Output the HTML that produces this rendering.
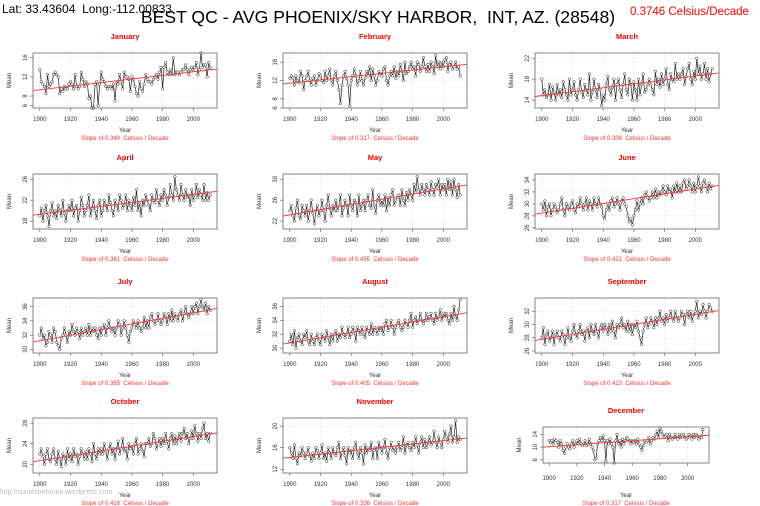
<!DOCTYPE html>
<html><head><meta charset="utf-8"><style>
body{margin:0;background:#fff;width:760px;height:506px;overflow:hidden;font-family:"Liberation Sans",sans-serif}
svg{display:block}
text{white-space:pre}
</style></head><body>
<svg id="c" width="760" height="506">
<text x="2" y="13" font-size="12" fill="#000">Lat: 33.43604  Long:-112.00833</text>
<text x="378" y="23" font-size="17.6" text-anchor="middle" fill="#000">BEST QC - AVG PHOENIX/SKY HARBOR,  INT, AZ. (28548)</text>
<text x="630" y="15" font-size="11.5" fill="#f00">0.3746 Celsius/Decade</text>
<text x="0" y="494" font-size="7" fill="#bbb">http://sunshinehours.wordpress.com</text>
</svg>
<script>
const years=[];for(let y=1900;y<=2011;y++)years.push(y);
const xTicks=[1900,1920,1940,1960,1980,2000];
const monthNames=["January","February","March","April","May","June","July","August","September","October","November","December"];
const slopes=["0.349","0.317","0.308","0.361","0.455","0.421","0.385","0.405","0.423","0.418","0.336","0.317"];
const jan=[13.5,11,10.5,10,8.5,12.5,10,10.5,11,12.5,13,12.5,12,8.5,9.5,9,10,9.5,9.5,10.5,11,10.5,9.5,12.5,10,9.5,10,13,11.5,10,11,10.5,7.5,8,5.5,5.5,10.5,11,6,10.5,13,11.5,11,10,9.5,10,10,9.5,10.5,7,11,10.5,12.5,11,9.5,13,12,12,11.5,9,12,11.5,10,8.5,8,11,9.5,9,10.5,12.5,11.5,11,11,10.5,11.5,12,12.5,11.5,13,14,9.5,14,15,13,12.5,13.5,12.5,16,12.5,13,13,12.5,13,13.5,13.5,14.5,13.5,12.5,13.5,14,13.5,14,15,12.5,13.5,17,14,14.5,14.5,12,15,14];
const feb=[12.5,13,12.5,11,13,12,11.5,14,13,10,12,13,14,12,11,12.5,13,11,12,13.5,13,12,11.5,14,12,13,14.5,12,11,13,14,12,10,7,11,13,14,12.5,11,6.5,12,13,14.5,13,11,12,14,12,11,12.5,14,13,15,12,14.5,13,11,12,14,13.5,13,14.5,15,12,11,13,14,13,15,12.5,14,13,15.5,14,12,16,13.5,14,15,16,14.5,15,13,16,15.5,14,15,17,15,14,15.5,14,16,15,13.5,17.5,15,16,14.5,16,15,16.5,17,14,15.5,16,14.5,15,16,14.5,15,13];
const mar=[18,15,16,14.5,15,17,14,16.5,15.5,14,17,15,16,14.5,17.5,16,15,14,18,15,16,17.5,15,14,16,18,15.5,14.5,17,16,15,19,14,15.5,18,16,14.5,17,16,13,15,14,17,18.5,16,15,16.5,18,14,17,18,16,14.5,17,19,16,15,18,17,14,17.5,16,14,18,15,17,19,15.5,16,17,18,17,16,15,19.5,17,18,16.5,19,17,18,20,17,16,19,18,17.5,21,18,19,18,19,20,17,18.5,20,21,18,17,19.5,18,22,19,20.5,18,19,21,18,20,17.5,19,20];
const apr=[19,20.5,18,20,21,19,17,20,21.5,19,20,18.5,21,20,19,22,19.5,18,20,21,20,22,19,20.5,21,18,20,22.5,21,19,20,21,23,19,20.5,22,20,18.5,21,22,19,20,22,21,20,23,21.5,20,19,22,21,20,23,22,20.5,21,23,20,22,21,20,22.5,21,24,20,21.5,19,22,21,23,22,21,20,23,22,21.5,24,22,21,23,22,24,23,21,22.5,25,23,22,26.5,24,23,22,25,23,22,24,22.5,23,21,24,22,23,25,22.5,24,23,22,25,22,23.5,22,23];
const may=[24,25,23,22,24.5,26,23,22.5,25,24,23,25,22,24,26,23.5,21.5,24,25,23,24,26,24,22,25,27,24.5,23,25,24,26,24,25,27,23,24.5,26,25,23,27,25,24,26,25.5,23,27,24,25,26,24,26,27,25,24.5,28,25,23.5,26,27,25,26,25,27,24,26.5,25,27,28,25,26,26.5,27,25,28,26,25,27.5,26,28,27,26,29,27.5,30.5,28,27,29,28,27,29,28,27,29.5,28,27,29,28.5,30,27,29,28,29,27,30,28,29.5,27,30,28,26.5,29,27];
const jun=[30,29,30.5,28,29.5,30,28,29,30,29.5,28.5,29,30,31,29,28,30,29.5,29,30,30.5,29,28.5,30,29.5,31,30,29,30,31,29,30.5,30,29,31,30,29.5,31,30,29.5,28,27.5,29,30,29,30.5,31,29.5,30,31,30,29,30.5,31,30,29.5,28,27,27.5,26.5,28,29,30.5,29,30,31,30,31.5,32,31,30.5,31,32,31,32.5,31,32,31.5,32,33,32,31.5,33,32,32.5,31,33,32,33.5,32,33,32,33.5,34,32.5,33,34,33,32,33.5,32,33,34.5,33,32,33.5,34,33,32,33.5,32.5,33];
const jul=[32,33,31.5,32,30.5,31,32.5,32,31,33,32.5,31,30.5,30,31.5,32,33,32,31,32.5,32,33.5,32.5,32,33,32.5,31.5,33,32,32.5,33,32,33.5,32,33,32.5,33,32,31.5,33,32,33,33.5,32,33,34,33,32.5,33,32,33,34,33.5,32,33,34,33,32,31,32.5,33,34,33.5,33,34,33,32.5,33,34.5,33,34,33,34.5,35,34,33.5,34,35,34,33.5,34,35,34.5,33.5,35,34,35.5,34,35,34.5,34,35,35.5,34,35,36,35,34.5,35,36,35,36,36.5,35,36,37,36,35.5,36.5,35,36,35.5];
const aug=[31,32,30.5,32.5,30,31.5,32,31,30.5,32,31.5,32.5,31,30.5,32,31,30.5,31.5,32,31,30.5,32,31.5,31,32.5,31.5,30.5,32,31,32,32.5,31,32,31.5,33,32,31.5,32,33,31.5,32,33,32.5,31,33,32.5,32,33,32,31.5,33,32.5,32,33.5,32,33,32.5,32,33,32.5,33,32,33.5,34,32.5,33,34,33,32,33,33.5,34,33,32.5,33,34,33.5,33,34,35,33,34,34.5,33.5,34,35,34,33.5,34,35,34,34.5,35,34,33.5,35,34,34.5,35.5,34,35,34.5,35,34,33.5,35,34,36,34.5,34,35.5,37];
const sep=[28,29.5,27,28.5,29,27.5,28,29,27,28.5,29,28,27.5,29,28.5,27,28,29.5,28,27.5,29,30,28.5,28,29,30,28.5,29,27.5,29,29.5,28,30,29,28.5,30,29,28,29.5,30,29,30,29.5,28.5,30,29,30.5,29,28,30,29.5,30,31,29.5,30,29,30.5,29,30,28.5,30,29.5,30.5,29,28,27,29,30,31,29.5,30,31,30.5,29.5,31,30,31,32,30.5,31,30,31.5,30.5,31,32,31,30.5,32,31,30.5,31,32,31.5,30,31.5,32,31,32,30.5,31.5,32,33.5,31,32,31.5,33,32,31,32,33,32.5,32];
const oct=[22,23,21.5,20,22,23,21,20.5,22,23,21,20,22.5,21,19.5,22,21.5,20,23,21,22,20.5,23,21.5,22,20,21.5,23,22,21,22.5,21,23,22,20.5,24,22,21,23,22,23,22,24,22.5,21,23,24,22,23,21,23,24.5,22,23,25,22.5,23,21,24,23,23.5,22,24,25,22,23,24,22.5,21.5,24,24,25,23.5,24,26,25,23,24,25,23.5,25,24,26,24.5,23,25,26,24,25.5,24,25,26,24.5,26,27,25,26,24,25,26.5,25,27.5,26,24.5,26,25,27,28,25,26,24.5,26];
const nov=[16,15,14,16.5,14,13,15,14.5,16,15,14,15,16,14.5,13.5,15,14,16,15.5,14,15,16.5,14,15,13.5,16,15,14,16,15,14.5,16,17,14,15,16,14.5,13,16,15,15.5,14,16,17,15,14,16,15,13,16.5,15,16,15.5,17,14,15.5,16,14,17,16,15,16,17.5,15,14,16,17,15.5,16,15,16,17,15.5,16,18,15,16.5,17,16,15.5,17,16,18,16.5,15,17,18,16,17.5,16,17,18,16.5,17,19,17,16,18,17,16,17.5,19,18,17,18.5,20,17,18,21,17,18,17.5];
const dec=[12,11.5,12,11,12.5,12,11.5,10,12,11,9,8,10,11,10,9.5,11,12,10,11,12,11,12.5,11,10.5,11,12,10.5,11,12.5,11,10,9,6,6.5,11,12,13,12,13.5,12,5.5,12,11,12.5,11,10,5,12,14,11,12,10,12.5,11,12,13,12.5,12,11,12,11.5,12,11,12.5,11,10,9,10.5,12,11.5,12,13,11,12,13,12.5,14,15,13,16,15,14,13,13.5,14,12,14,13,12.5,13,14,13,12.5,14,13,13.5,14,13,12.5,13,14,13.5,12.5,14,13,14,13.5,12.5,13,13,15.5];
const series=[jan,feb,mar,apr,may,jun,jul,aug,sep,oct,nov,dec];
const yTickLabels=[[6,8,12,16],[6,8,12,16],[14,18,22],[18,22,26],[22,26,30],[26,28,30,32,34],[30,32,34,36],[30,32,34,36],[26,28,30,32],[20,24,28],[12,16,20],[6,10,14]];
const yMins=[5.5,6,12.5,16.5,20.5,25.8,29.5,29.3,25.7,18.3,11.3,5];
const yMaxs=[17,18,23,27,31,35,37.2,37.2,34,29,21.5,16.3];

const svg=document.getElementById('c');const NS='http://www.w3.org/2000/svg';
function mk(tag,attrs,parent){const e=document.createElementNS(NS,tag);for(const k in attrs)e.setAttribute(k,attrs[k]);(parent||svg).appendChild(e);return e;}
const colL=[33,283,535],rowT=[53,174,298,418];
for(let m=0;m<12;m++){
  const col=m%3,row=Math.floor(m/3);
  let L=colL[col],T=rowT[row],W=184,H=55;
  if(m===11){L=543;T=427;W=166;H=36;}
  const g=mk('g',{});
  
  
  const x0=1895.56,x1=2015.44;
  const sx=v=>L+(v-x0)/(x1-x0)*W;
  const sy=v=>T+H-(v-yMins[m])/(yMaxs[m]-yMins[m])*H;
  const t=mk('text',{x:L+W/2,y:T-14,'font-size':7.5,'font-weight':'bold',fill:'#f00','text-anchor':'middle'},g);t.textContent=monthNames[m];
  
  
  xTicks.forEach(v=>{
    const gl=mk('line',{x1:sx(v),x2:sx(v),y1:T,y2:T+H,stroke:'#ddd','stroke-width':0.6,'stroke-dasharray':'2,2'},g);
    
    
    mk('line',{x1:sx(v),x2:sx(v),y1:T+H,y2:T+H+3,stroke:'#555','stroke-width':0.6},g);
    const tl=mk('text',{x:sx(v),y:T+H+(m===11?17:13),'font-size':6,fill:'#333','text-anchor':'middle'},g);tl.textContent=v;
    
    
  });
  yTickLabels[m].forEach(v=>{
    const gl=mk('line',{x1:L,x2:L+W,y1:sy(v),y2:sy(v),stroke:'#ddd','stroke-width':0.6,'stroke-dasharray':'2,2'},g);
    
    
    mk('line',{x1:L-3,x2:L,y1:sy(v),y2:sy(v),stroke:'#555','stroke-width':0.6},g);
    const tl=mk('text',{x:L-6,y:sy(v),'font-size':6,fill:'#333','text-anchor':'middle',transform:`rotate(-90 ${L-6} ${sy(v)})`},g);tl.textContent=v;
    
    
  });
  const yl=mk('text',{x:L-22,y:T+H/2,'font-size':6,fill:'#333','text-anchor':'middle',transform:`rotate(-90 ${L-22} ${T+H/2})`},g);yl.textContent='Mean';
  
  
  const xl=mk('text',{x:L+W/2,y:T+H+(m===11?34:24),'font-size':6,fill:'#333','text-anchor':'middle'},g);xl.textContent='Year';
  
  
  const sl=mk('text',{x:L+W/2,y:T+H+(m===11?42:32),'font-size':6,fill:'#f33','text-anchor':'middle'},g);sl.textContent='Slope of '+slopes[m]+'  Celsius / Decade';
  
  
  const d=series[m];
  const pts=d.map((v,i)=>sx(years[i]).toFixed(1)+','+sy(v).toFixed(1)).join(' ');
  const pl=mk('polyline',{points:pts,fill:'none',stroke:'#222','stroke-width':0.7},g);
  
  
  d.forEach((v,i)=>{
    const c=mk('circle',{cx:sx(years[i]),cy:sy(v),r:1.3,fill:'#fff',stroke:'#222','stroke-width':0.5},g);
    
    
  });
  const n=d.length;let mx=0,my=0;for(let i=0;i<n;i++){mx+=years[i];my+=d[i];}mx/=n;my/=n;
  let num=0,den=0;for(let i=0;i<n;i++){num+=(years[i]-mx)*(d[i]-my);den+=(years[i]-mx)**2;}
  const b=num/den,a=my-b*mx;
  const tr=mk('line',{x1:L,y1:sy(a+b*x0),x2:L+W,y2:sy(a+b*x1),stroke:'#f33','stroke-width':0.9},g);
  
  
  const box=mk('rect',{x:L,y:T,width:W,height:H,fill:'none',stroke:'#666','stroke-width':0.8},g);
  
  
}
</script>
</body></html>
